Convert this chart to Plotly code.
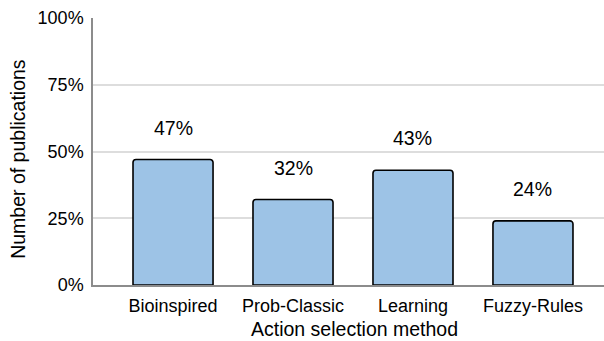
import plotly.graph_objects as go

# Share of publications per action selection method
methods = ["Bioinspired", "Prob-Classic", "Learning", "Fuzzy-Rules"]
shares = [47, 32, 43, 24]
y_ticks = [0, 25, 50, 75, 100]
y_tick_labels = ["0%", "25%", "50%", "75%", "100%"]

FONT = "Liberation Sans, Arial, sans-serif"

fig = go.Figure(
    go.Bar(
        x=methods,
        y=shares,
        width=0.667,
        marker=dict(color="#9dc3e6", line=dict(color="#000000", width=1.6)),
        hoverinfo="skip",
    )
)

# Percentage labels floating above each bar
for m, v in zip(methods, shares):
    fig.add_annotation(
        x=m, y=v, text=f"{v}%", showarrow=False,
        yanchor="middle", yshift=32,
        font=dict(family=FONT, size=19.5, color="#000000"),
    )

# Axis titles
fig.add_annotation(
    xref="paper", yref="paper", x=0.5127, y=-56 / 267,
    text="Action selection method", showarrow=False,
    xanchor="center", yanchor="bottom", borderpad=0,
    font=dict(family=FONT, size=19.5, color="#000000"),
)
fig.add_annotation(
    xref="paper", yref="paper", x=-0.147, y=0.472,
    text="Number of publications", showarrow=False, textangle=-90,
    xanchor="center", yanchor="middle",
    font=dict(family=FONT, size=19.5, color="#000000"),
)

fig.update_layout(
    width=604, height=341,
    margin=dict(l=93, r=0, t=18, b=56),
    paper_bgcolor="white", plot_bgcolor="white",
    barcornerradius=3,
    showlegend=False,
    font=dict(family=FONT, color="#000000"),
)

fig.update_xaxes(
    range=[-0.667, 3.592],
    showgrid=False,
    showline=True, linecolor="#8c8c8c", linewidth=1.5,
    ticks="", tickfont=dict(size=18),
    ticklabelstandoff=4,
)

fig.update_yaxes(
    range=[0, 100],
    tickvals=y_ticks, ticktext=y_tick_labels,
    showgrid=True, gridcolor="#dddddd", gridwidth=1.8,
    showline=True, linecolor="#8c8c8c", linewidth=1.5,
    zeroline=False,
    ticks="", tickfont=dict(size=18),
    ticklabelstandoff=4,
)

fig.write_html("out.html")
